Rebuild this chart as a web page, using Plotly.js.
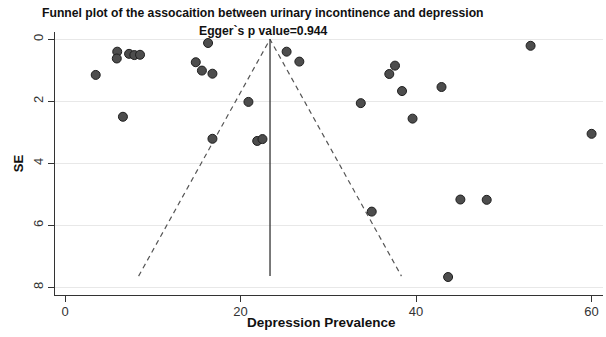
<!DOCTYPE html>
<html>
<head>
<meta charset="utf-8">
<script src="https://cdn.plot.ly/plotly-3.0.1.min.js"></script>
<style>html,body{margin:0;padding:0;background:#fff;}#chart{width:606px;height:337px;}</style>
</head>
<body>
<div id="chart"></div>
<script>
// Study-level depression prevalence (%) and its standard error
const prevalence = [3.5, 5.95, 5.9, 7.3, 7.9, 8.55, 6.6, 14.9, 16.3, 15.6, 16.8, 20.9, 25.25, 26.7, 16.8, 21.9, 22.5,
                    37.6, 36.95, 38.4, 33.7, 39.6, 53.05, 42.9, 60.0, 45.05, 48.05, 34.95, 43.65];
const standardError = [1.15, 0.40, 0.62, 0.47, 0.51, 0.50, 2.50, 0.74, 0.12, 1.01, 1.11, 2.02, 0.40, 0.72, 3.21, 3.28, 3.22,
                       0.85, 1.12, 1.67, 2.06, 2.56, 0.21, 1.54, 3.05, 5.17, 5.18, 5.56, 7.67];
// Pooled estimate and funnel limits (pooled ± 1.96·SE)
const pooledEstimate = 23.36;
const seMax = 7.64;
const funnelSE = [seMax, 0, seMax];
const funnelX = [pooledEstimate - 1.96 * seMax, pooledEstimate, pooledEstimate + 1.96 * seMax];
const pooledLineX = [pooledEstimate, pooledEstimate];
const pooledLineSE = [0, seMax];
const xTicks = [0, 20, 40, 60];
const yTicks = [0, 2, 4, 6, 8];
const titleLines = ['Funnel plot of the assocaition between urinary incontinence and depression', 'Egger`s p value=0.944'];

const traces = [
  {x: funnelX, y: funnelSE, mode: 'lines', type: 'scatter', hoverinfo: 'skip',
   line: {color: '#555555', width: 1.2, dash: '5px,4px'}},
  {x: pooledLineX, y: pooledLineSE, mode: 'lines', type: 'scatter', hoverinfo: 'skip',
   line: {color: '#333333', width: 1.3}},
  {x: prevalence, y: standardError, mode: 'markers', type: 'scatter',
   marker: {size: 9, color: '#4d4d4d', line: {color: '#1e1e1e', width: 1}}}
];

const layout = {
  width: 606, height: 337,
  margin: {l: 55, r: 3, t: 32, b: 42},
  paper_bgcolor: '#ffffff', plot_bgcolor: '#ffffff',
  showlegend: false,
  font: {family: 'Liberation Sans, Arial, sans-serif', color: '#222'},
  annotations: [
    {text: '<b>' + titleLines[0] + '</b>', xref: 'paper', yref: 'paper', x: 0.38, y: 1.071,
     xanchor: 'center', yanchor: 'middle', showarrow: false, font: {size: 12.2, color: '#111'}},
    {text: '<b>' + titleLines[1] + '</b>', xref: 'paper', yref: 'paper', x: 0.38, y: 1.003,
     xanchor: 'center', yanchor: 'middle', showarrow: false, font: {size: 12.2, color: '#111'}},
    {text: '<b>Depression Prevalence</b>', xref: 'paper', yref: 'paper', x: 0.487, y: -0.105,
     xanchor: 'center', yanchor: 'middle', showarrow: false, font: {size: 13.5, color: '#111'}}
  ],
  xaxis: {
    range: [-1.14, 61.3], tickvals: xTicks, ticktext: xTicks.map(String),
    showgrid: false, zeroline: false, showline: true, linecolor: '#333', linewidth: 1.3,
    ticks: 'outside', ticklen: 6, tickcolor: '#333', tickfont: {size: 13, color: '#333'},
    ticklabelstandoff: -2
  },
  yaxis: {
    range: [8.25, -0.235], tickvals: yTicks, ticktext: yTicks.map(String), tickangle: -90,
    showgrid: true, gridcolor: '#e8e8e8', gridwidth: 1, zeroline: false,
    showline: true, linecolor: '#333', linewidth: 1.3,
    ticks: 'outside', ticklen: 6, tickcolor: '#333', tickfont: {size: 13, color: '#333'},
    title: {text: '<b>SE</b>', font: {size: 13, color: '#111'}, standoff: 4}
  }
};

Plotly.newPlot('chart', traces, layout, {displayModeBar: false, staticPlot: true});
</script>
</body>
</html>
